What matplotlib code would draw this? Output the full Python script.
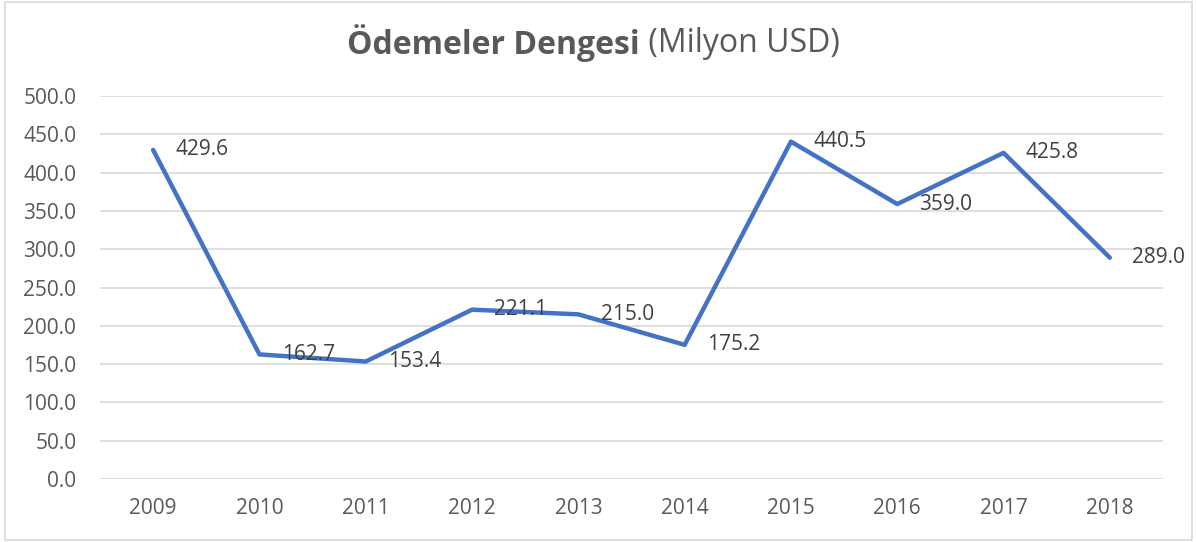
import matplotlib.pyplot as plt
from matplotlib.patches import Rectangle

plt.rcParams['font.family'] = ['Open Sans', 'DejaVu Sans']

years = ['2009', '2010', '2011', '2012', '2013', '2014', '2015', '2016', '2017', '2018']
values = [429.6, 162.7, 153.4, 221.1, 215.0, 175.2, 440.5, 359.0, 425.8, 289.0]
yticks = [0, 50, 100, 150, 200, 250, 300, 350, 400, 450, 500]

fig = plt.figure(figsize=(11.96, 5.42), dpi=100)
ax = fig.add_axes([0.0836, 0.1162, 0.8888, 0.7066])

x = list(range(len(years)))
ax.plot(x, values, color='#4472C4', linewidth=3.2, solid_capstyle='round',
        solid_joinstyle='round', zorder=3)

for xi, v in zip(x, values):
    ax.annotate(f'{v:.1f}', (xi, v), xytext=(16, 0), textcoords='offset points',
                ha='left', va='center', fontsize=15, color='#404040', zorder=4)

ax.set_xlim(-0.5, len(years) - 0.5)
ax.set_ylim(0, 500)
ax.set_yticks(yticks)
ax.set_yticklabels([f'{t:.1f}' for t in yticks])
ax.set_xticks(x)
ax.set_xticklabels(years)
ax.tick_params(axis='both', length=0, labelsize=15, labelcolor='#595959')
ax.tick_params(axis='y', pad=17)
ax.tick_params(axis='x', pad=14)
ax.grid(axis='y', color='#D9D9D9', linewidth=1.2)
ax.set_axisbelow(True)
for s in ax.spines.values():
    s.set_visible(False)

fig.text(0.535, 0.92, 'Ödemeler Dengesi', ha='right', va='center',
         fontsize=23, fontweight='bold', color='#595959')
fig.text(0.535, 0.92, ' (Milyon USD)', ha='left', va='center',
         fontsize=23, color='#595959')

fig.patches.append(Rectangle((0.004, 0.004), 0.993, 0.992, transform=fig.transFigure,
                             fill=False, edgecolor='#D9D9D9', linewidth=1.2))

fig.savefig('out.png', dpi=100)
